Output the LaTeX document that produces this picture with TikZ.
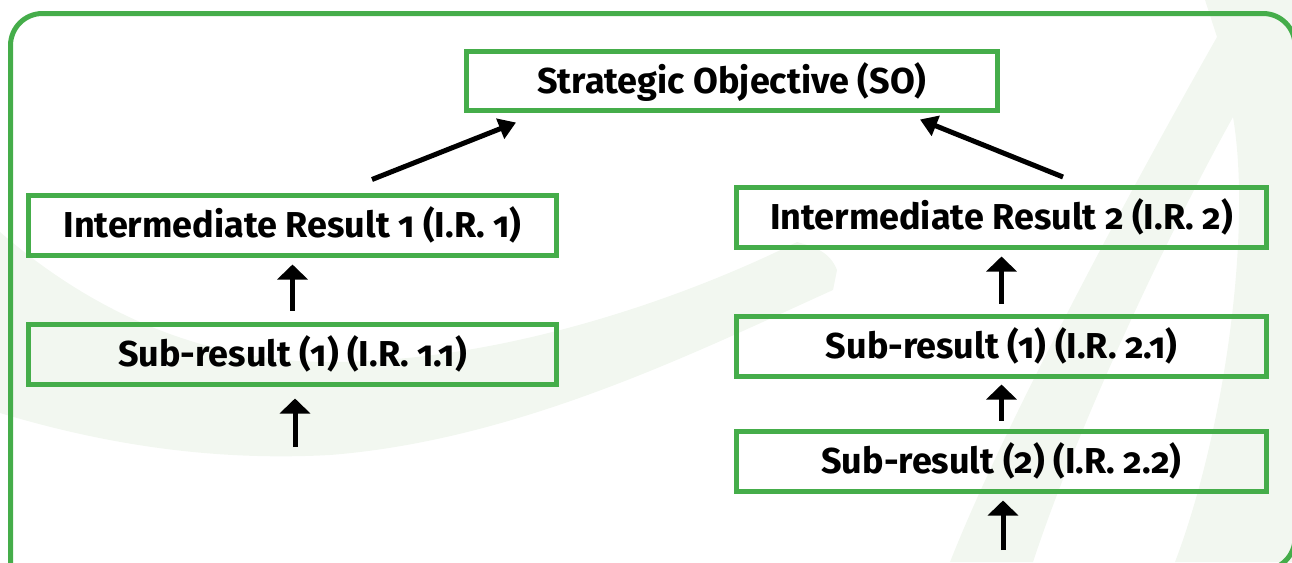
\documentclass[tikz,border=0pt]{standalone}
\usepackage{fontspec}
\newfontfamily\boxfont{Fira Sans}[Numbers=OldStyle]
\usetikzlibrary{arrows.meta,calc}
\definecolor{frameg}{HTML}{45AD4A}
\definecolor{bandg}{HTML}{F2F7F0}
\begin{document}
\begin{tikzpicture}[x=1pt,y=-1pt,
  box/.style={draw=frameg, line width=5pt, minimum width=530pt, minimum height=60pt,
    inner sep=0pt, text height=24.5pt, text depth=0pt, font=\boxfont\bfseries\fontsize{36}{40}\selectfont},
  varr/.style={line width=5pt, -{Triangle[width=30pt,length=15pt]}},
  darr/.style={line width=5pt, -{Triangle[width=21pt,length=17pt]}},
  band/.style={fill=bandg, draw=none}]
\useasboundingbox (0,0) rectangle (1292,562);
% background swoosh
\path[band] (0,232) .. controls (90,310) and (200,362) .. (330,362)
  .. controls (500,362) and (680,300) .. (797,242)
  .. controls (815,247) and (830,252) .. (837,270) -- (833,290)
  .. controls (700,350) and (520,440) .. (330,455)
  .. controls (200,462) and (90,440) .. (0,413) -- cycle;
\path[band] (1205,0) -- (1217,37) .. controls (1150,155) and (1010,410) .. (950,562)
  -- (1033,562) .. controls (1080,420) and (1170,230) .. (1233,117)
  .. controls (1252,230) and (1225,430) .. (1175,562)
  -- (1292,562) -- (1292,0) -- cycle;
% frame
\draw[frameg, line width=5pt, rounded corners=32pt] (10.5,620) -- (10.5,13.5) -- (1295,13.5) -- (1295,570) -- (900,570);
% nodes
\node[box, minimum width=531pt, minimum height=59pt] (so) at (732,81) {Strategic Objective (SO)};
\node[box, minimum width=528pt] (ir1) at (292.5,225.5) {Intermediate Result 1 (I.R. 1)};
\node[box, minimum width=528pt] (sub11) at (292.5,354.5) {Sub-result (1) (I.R. 1.1)};
\node[box] (ir2) at (1001.5,217.5) {Intermediate Result 2 (I.R. 2)};
\node[box] (sub21) at (1001.5,346.5) {Sub-result (1) (I.R. 2.1)};
\node[box] (sub22) at (1001.5,461) {Sub-result (2) (I.R. 2.2)};
\coordinate (in11) at (295,447);
\coordinate (in22) at (1003,550);
% connectors
\draw[darr] ([shift={(79.5pt,13.5pt)}]ir1.north) -- ([shift={(-216pt,-9.5pt)}]so.south);
\draw[darr] ([shift={(61.5pt,8pt)}]ir2.north) -- ([shift={(188pt,-6.5pt)}]so.south);
\draw[varr, shorten <=11.5pt, shorten >=6.5pt] (sub11.north) -- (ir1.south);
\draw[varr, shorten >=11.5pt] (in11) -- (in11 |- sub11.south);
\draw[varr, shorten <=10.5pt, shorten >=6.5pt] (sub21.north) -- (ir2.south);
\draw[varr, shorten <=8pt, shorten >=5.5pt] (sub22.north) -- (sub21.south);
\draw[varr, shorten >=7pt] (in22) -- (in22 |- sub22.south);
\end{tikzpicture}
\end{document}
